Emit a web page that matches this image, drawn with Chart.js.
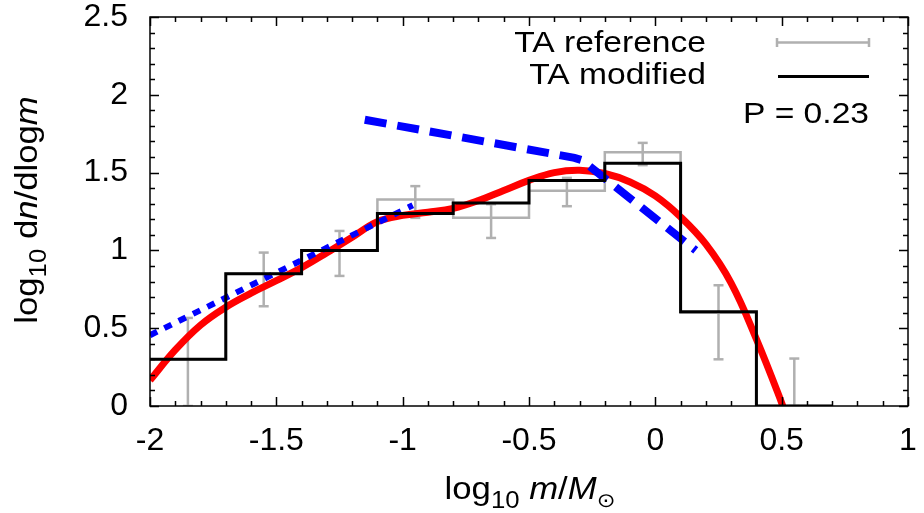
<!DOCTYPE html>
<html>
<head>
<meta charset="utf-8">
<script src="https://cdn.jsdelivr.net/npm/chart.js@4/dist/chart.umd.min.js"></script>
<style>
  html, body { margin: 0; padding: 0; background: #ffffff; }
  #wrap { width: 924px; height: 513px; }
</style>
</head>
<body>
<div id="wrap"><canvas id="c" width="924" height="513"></canvas></div>
<script>
// ---- data ----
const binEdges   = [-2.0, -1.7, -1.4, -1.1, -0.8, -0.5, -0.2, 0.1, 0.4, 0.7];
const binCenters = [-1.85, -1.55, -1.25, -0.95, -0.65, -0.35, -0.05, 0.25, 0.55];
const refValues  = [0.30, 0.85, 1.00, 1.327, 1.21, 1.383, 1.63, 0.60, 0.00];
const refErrLow  = [0.00, 0.641, 0.836, 1.209, 1.08, 1.284, 1.548, 0.30, 0.00];
const refErrHigh = [0.566, 0.986, 1.125, 1.413, 1.297, 1.466, 1.691, 0.776, 0.305];
const modValues  = [0.30, 0.85, 1.00, 1.237, 1.305, 1.45, 1.56, 0.605, 0.00];

const fitX = [-2.0, -1.9, -1.8, -1.7, -1.6, -1.5, -1.4, -1.3, -1.2, -1.1, -1.0, -0.9, -0.8, -0.7, -0.6, -0.5, -0.4, -0.3, -0.2, -0.1, 0.0, 0.1, 0.2, 0.3, 0.4, 0.5, 0.53];
const fitY = [0.165, 0.36, 0.52, 0.635, 0.725, 0.805, 0.889, 0.985, 1.085, 1.185, 1.225, 1.245, 1.27, 1.32, 1.385, 1.45, 1.50, 1.515, 1.494, 1.44, 1.35, 1.215, 1.04, 0.79, 0.43, 0.02, -0.12];

const dottedX = [-2.0, -0.96];
const dottedY = [0.455, 1.29];

const dashedX = [-1.15, -0.32, -0.29, -0.26, 0.16];
const dashedY = [1.84, 1.595, 1.58, 1.54, 1.0];

const xTickStep = 0.5, yTickStep = 0.5;
const legendLabels = ['TA reference', 'TA modified'];
const annotationText = 'P = 0.23';

// ---- build library data ----
function stepData(edges, vals) {
  return edges.map((x, i) => ({ x: x, y: i < vals.length ? vals[i] : vals[vals.length - 1] }));
}
function errData(cs, lo, hi) {
  const out = [];
  cs.forEach((c, i) => { out.push({ x: c, y: lo[i] }); out.push({ x: c, y: hi[i] }); out.push({ x: c, y: null }); });
  return out;
}
function xy(xs, ys) { return xs.map((x, i) => ({ x: x, y: ys[i] })); }
function fmt(v) { return String(Math.round(v * 10) / 10); }

const GRAY = '#b0b0b0';
const FONT = '"Liberation Sans", Arial, Helvetica, sans-serif';
const STRETCH = 1.12;

function drawRuns(ctx, runs, x, y, align) {
  ctx.save();
  let total = 0;
  runs.forEach(r => {
    ctx.font = (r.italic ? 'italic ' : '') + r.size + 'px ' + (r.family || FONT);
    r.w = ctx.measureText(r.t).width * STRETCH;
    total += r.w;
  });
  let cx = align === 'center' ? x - total / 2 : (align === 'right' ? x - total : x);
  ctx.fillStyle = '#000';
  ctx.textBaseline = 'alphabetic';
  ctx.textAlign = 'left';
  runs.forEach(r => {
    ctx.font = (r.italic ? 'italic ' : '') + r.size + 'px ' + (r.family || FONT);
    ctx.save();
    ctx.translate(cx, y + (r.dy || 0));
    ctx.scale(STRETCH, 1);
    ctx.fillText(r.t, 0, 0);
    ctx.restore();
    cx += r.w;
  });
  ctx.restore();
}

const framePlugin = {
  id: 'frame',
  afterDatasetsDraw(chart) {
    const { ctx, chartArea: a, scales } = chart;
    const xs = scales.x, ys = scales.y;
    ctx.save();
    ctx.strokeStyle = '#000';
    ctx.lineWidth = 1.5;
    ctx.beginPath();
    for (let k = -20; k <= 10; k++) {
      const v = k / 10;
      const px = Math.round(xs.getPixelForValue(v)) + 0.5;
      const len = (k % 5 === 0) ? 9 : 5;
      ctx.moveTo(px, a.bottom); ctx.lineTo(px, a.bottom - len);
      ctx.moveTo(px, a.top); ctx.lineTo(px, a.top + len);
    }
    for (let k = 0; k <= 25; k++) {
      const v = k / 10;
      const py = Math.round(ys.getPixelForValue(v)) + 0.5;
      const len = (k % 5 === 0) ? 9 : 5;
      ctx.moveTo(a.left, py); ctx.lineTo(a.left + len, py);
      ctx.moveTo(a.right, py); ctx.lineTo(a.right - len, py);
    }
    ctx.stroke();
    ctx.strokeRect(a.left, a.top, a.right - a.left, a.bottom - a.top);
    ctx.restore();
  },
  afterDraw(chart) {
    const { ctx } = chart;
    drawRuns(ctx, [{ t: legendLabels[0], size: 30 }], 706, 52, 'right');
    drawRuns(ctx, [{ t: legendLabels[1], size: 30 }], 706, 84, 'right');
    ctx.save();
    ctx.strokeStyle = GRAY; ctx.lineWidth = 2.5;
    ctx.beginPath();
    ctx.moveTo(777, 42.5); ctx.lineTo(869, 42.5);
    ctx.moveTo(777, 38); ctx.lineTo(777, 47);
    ctx.moveTo(869, 38); ctx.lineTo(869, 47);
    ctx.stroke();
    ctx.strokeStyle = '#000'; ctx.lineWidth = 3;
    ctx.beginPath(); ctx.moveTo(778, 76.5); ctx.lineTo(869, 76.5); ctx.stroke();
    ctx.restore();
    drawRuns(ctx, [{ t: annotationText, size: 30 }], 869, 123, 'right');
    drawRuns(ctx, [
      { t: 'log', size: 31 },
      { t: '10', size: 23, dy: 9 },
      { t: ' ', size: 31 },
      { t: 'm', size: 31, italic: true },
      { t: '/', size: 31 },
      { t: 'M', size: 31, italic: true },
      { t: '\u2299', size: 20, dy: 8, family: '"DejaVu Sans", sans-serif' }
    ], 530, 499, 'center');
    ctx.save();
    ctx.translate(37, 210);
    ctx.rotate(-Math.PI / 2);
    drawRuns(ctx, [
      { t: 'log', size: 31 },
      { t: '10', size: 23, dy: 9 },
      { t: ' d', size: 31 },
      { t: 'n', size: 31, italic: true },
      { t: '/dlog', size: 31 },
      { t: 'm', size: 31, italic: true }
    ], 0, 0, 'center');
    ctx.restore();
  }
};

const chart = new Chart(document.getElementById('c'), {
  type: 'line',
  data: {
    datasets: [
      { label: 'TA modified', data: stepData(binEdges, modValues), stepped: true,
        borderColor: '#000', borderWidth: 3, pointRadius: 0, fill: false, order: 1 },
      { label: 'dotted', data: xy(dottedX, dottedY), borderColor: '#0000ff', borderWidth: 6,
        borderDash: [8, 8], borderCapStyle: 'butt', pointRadius: 0, fill: false, order: 2, clip: 0 },
      { label: 'dashed', data: xy(dashedX, dashedY), borderColor: '#0000ff', borderWidth: 8,
        borderDash: [22, 11], borderCapStyle: 'butt', pointRadius: 0, fill: false, order: 2, clip: 0 },
      { label: 'fit', data: xy(fitX, fitY), borderColor: '#ff0000', borderWidth: 7,
        tension: 0.4, pointRadius: 0, fill: false, order: 3, clip: 0 },
      { label: 'TA reference', data: stepData(binEdges, refValues), stepped: true,
        borderColor: GRAY, borderWidth: 2.5, pointRadius: 0, fill: false, order: 4 },
      { label: 'ref errors', data: errData(binCenters, refErrLow, refErrHigh), borderColor: GRAY,
        borderWidth: 2.5, pointStyle: 'line', pointRadius: 5, pointBorderWidth: 2.5,
        pointBorderColor: GRAY, pointBackgroundColor: GRAY, spanGaps: false, fill: false, order: 5 }
    ]
  },
  options: {
    responsive: false,
    animation: false,
    devicePixelRatio: 1,
    layout: { padding: { left: 0, right: 16, top: 17, bottom: 0 } },
    plugins: { legend: { display: false }, tooltip: { enabled: false } },
    scales: {
      x: {
        type: 'linear', min: -2, max: 1,
        grid: { display: false, drawTicks: false },
        border: { display: false },
        ticks: { stepSize: xTickStep, color: '#000', padding: 19, maxRotation: 0,
                 font: { family: FONT, size: 32, lineHeight: 1 }, callback: v => fmt(v) },
        afterFit(s) { s.height = 107; s.paddingLeft = 0; s.paddingRight = 0; }
      },
      y: {
        type: 'linear', min: 0, max: 2.5,
        grid: { display: false, drawTicks: false },
        border: { display: false },
        ticks: { stepSize: yTickStep, color: '#000', padding: 22,
                 font: { family: FONT, size: 32, lineHeight: 1 }, callback: v => fmt(v) },
        afterFit(s) { s.width = 150; s.paddingTop = 0; s.paddingBottom = 0; }
      }
    }
  },
  plugins: [framePlugin]
});
</script>
</body>
</html>
